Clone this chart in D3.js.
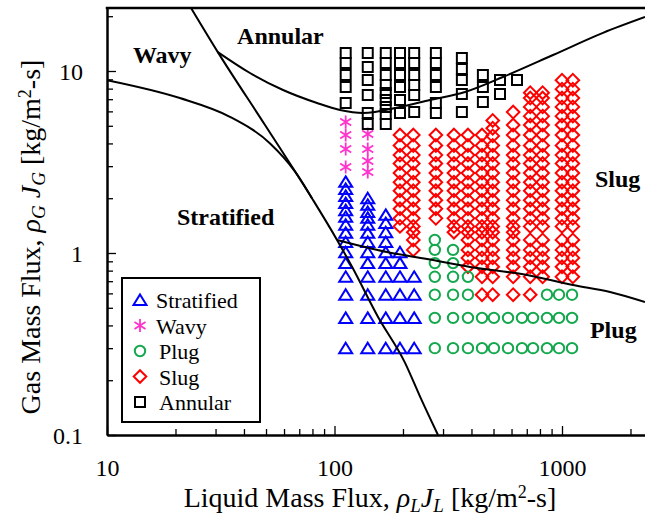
<!DOCTYPE html>
<html>
<head>
<meta charset="utf-8">
<script src="https://cdn.jsdelivr.net/npm/d3@7"></script>
<style>
  body { margin: 0; background: #fff; }
  svg { display: block; font-family: "Liberation Serif", "Times New Roman", serif; }
</style>
</head>
<body>
<svg id="chart" width="645" height="516"></svg>
<script>
"use strict";

// Measured points: liquid mass flux columns and the gas mass flux values in each column
const stratifiedL = [112, 140, 168, 194, 224];
const stratifiedG = [
    [0.30, 0.44, 0.59, 0.74, 0.88, 1.01, 1.15, 1.29, 1.43, 1.58, 1.72, 1.88, 2.06, 2.25, 2.46],
    [0.30, 0.44, 0.59, 0.74, 0.88, 1.01, 1.15, 1.29, 1.43, 1.56, 1.68, 1.84, 2.00],
    [0.30, 0.44, 0.59, 0.74, 0.88, 1.01, 1.15, 1.30, 1.46, 1.62],
    [0.30, 0.44, 0.59, 0.74, 0.88, 1.01],
    [0.30, 0.44, 0.59, 0.74]
];

const wavyL = [112, 140];
const wavyG = [
    [2.97, 3.73, 4.45, 5.25],
    [2.79, 3.20, 3.73, 4.51]
];

const plugL = [276, 332, 386, 445, 502, 579, 667, 746, 859, 970, 1107];
const plugG = [
    [0.30, 0.44, 0.59, 0.74, 0.88, 1.04, 1.18],
    [0.30, 0.44, 0.59, 0.74, 0.88, 1.04],
    [0.30, 0.44, 0.59, 0.74],
    [0.30, 0.44],
    [0.30, 0.44],
    [0.30, 0.44],
    [0.30, 0.44],
    [0.30, 0.44],
    [0.30, 0.44, 0.59],
    [0.30, 0.44, 0.59],
    [0.30, 0.44, 0.59]
];

const slugL = [194, 222, 279, 335, 386, 445, 496, 610, 725, 822, 1000, 1116];
const slugG = [
    [1.40, 1.55, 1.75, 1.95, 2.20, 2.45, 2.75, 3.10, 3.45, 3.90, 4.45],
    [1.04, 1.18, 1.30, 1.40, 1.55, 1.75, 1.95, 2.20, 2.45, 2.75, 3.10, 3.45, 3.90, 4.45],
    [1.55, 1.75, 1.95, 2.20, 2.45, 2.75, 3.10, 3.45, 3.90, 4.45],
    [1.30, 1.40, 1.55, 1.75, 1.95, 2.20, 2.45, 2.75, 3.10, 3.45, 3.90, 4.45],
    [0.84, 0.94, 1.04, 1.18, 1.30, 1.40, 1.55, 1.75, 1.95, 2.20, 2.45, 2.75, 3.10, 3.45, 3.90, 4.45],
    [0.59, 0.74, 0.84, 0.94, 1.04, 1.18, 1.30, 1.40, 1.55, 1.75, 1.95, 2.20, 2.45, 2.75, 3.10, 3.45, 3.90, 4.45],
    [0.59, 0.74, 0.84, 0.94, 1.04, 1.18, 1.30, 1.40, 1.55, 1.75, 1.95, 2.20, 2.45, 2.75, 3.10, 3.45, 3.90, 4.40, 4.85, 5.35],
    [0.59, 0.74, 0.84, 0.94, 1.04, 1.18, 1.30, 1.40, 1.55, 1.75, 1.95, 2.20, 2.45, 2.75, 3.10, 3.45, 3.90, 4.45, 5.05, 5.95],
    [0.59, 0.74, 0.84, 0.94, 1.04, 1.18, 1.40, 1.55, 1.75, 1.95, 2.20, 2.45, 2.75, 3.10, 3.45, 3.90, 4.45, 5.05, 5.65, 6.35, 7.10, 7.60],
    [0.74, 0.84, 0.94, 1.04, 1.18, 1.40, 1.55, 1.75, 1.95, 2.20, 2.45, 2.75, 3.10, 3.45, 3.90, 4.45, 5.05, 5.65, 6.35, 7.10, 7.60],
    [0.74, 0.84, 0.94, 1.04, 1.18, 1.40, 1.55, 1.75, 1.95, 2.20, 2.45, 2.75, 3.10, 3.45, 3.90, 4.45, 5.05, 5.65, 6.35, 7.10, 7.95, 8.90],
    [0.74, 0.84, 0.94, 1.04, 1.18, 1.40, 1.55, 1.75, 1.95, 2.20, 2.45, 2.75, 3.10, 3.45, 3.90, 4.45, 5.05, 5.65, 6.35, 7.10, 7.95, 8.90]
];

const annularL = [112, 140, 168, 194, 224, 279, 363, 449, 534, 634];
const annularG = [
    [6.67, 8.17, 9.51, 11.07, 12.56],
    [5.12, 5.88, 7.39, 8.92, 10.52, 12.56],
    [5.12, 5.80, 6.34, 6.93, 7.57, 8.38, 9.51, 11.07, 12.56],
    [5.88, 6.93, 8.17, 9.51, 11.07, 12.56],
    [5.95, 7.39, 8.38, 9.51, 11.07, 12.56],
    [5.88, 6.67, 8.17, 9.51, 11.07, 12.56],
    [5.95, 7.47, 8.92, 10.26, 11.79],
    [6.76, 8.17, 9.51],
    [7.47, 8.92],
    [8.92]
];

// Transition boundaries (liquid flux, gas flux)
const wavyLineL = [10, 20.9, 34.7, 52.1, 67.1, 79.6];
const wavyLineG = [8.9, 7.1, 5.6, 4.0, 2.8, 2.0];
const stratLineL = [23.4, 30.7, 49.5, 79.6, 102.6, 119.4, 155.4, 204, 238, 285];
const stratLineG = [22.2, 12.7, 5.05, 2.0, 1.18, 0.84, 0.445, 0.25, 0.162, 0.1];
const annularLineL = [30.7, 42.5, 59.4, 83.8, 105.7, 133.4, 194, 263, 375, 550, 913, 1514, 2317];
const annularLineG = [12.7, 9.75, 7.86, 6.67, 6.11, 5.88, 6.34, 6.93, 7.67, 9.27, 12.24, 16.2, 19.8];
const plugLineL = [102.6, 170, 255, 394, 702, 1118, 1626, 2317];
const plugLineG = [1.18, 1.013, 0.927, 0.838, 0.757, 0.667, 0.611, 0.538];

// Region names and where they sit
const regionNames = ["Wavy", "Annular", "Stratified", "Slug", "Plug"];
const regionL = [13.0, 37.3, 20.3, 1396, 1327];
const regionG = [11.1, 14.1, 1.43, 2.30, 0.34];

const legendNames = ["Stratified", "Wavy", "Plug", "Slug", "Annular"];

// Marker shapes and colours for each regime
const shapes = {
    Stratified: "M0,-5.5L6.5,5L-6.5,5Z",
    Wavy: "M0,-6.5V6.5M-5.5,-3.5L5.5,3.5M-5.5,3.5L5.5,-3.5",
    Plug: "M5.2,0A5.2,5.2 0 1 1 -5.2,0A5.2,5.2 0 1 1 5.2,0Z",
    Slug: "M0,-6.3L6.3,0L0,6.3L-6.3,0Z",
    Annular: "M-5,-5H5V5H-5Z"
};
const colors = {
    Stratified: "#0000ff",
    Wavy: "#ff33cc",
    Plug: "#14a84e",
    Slug: "#ff0000",
    Annular: "#000000"
};

const svg = d3.select("#chart");
svg.append("rect").attr("width", 645).attr("height", 516).attr("fill", "#fff");

const decadeX = 227.5, decadeY = 182;
const x = d3.scaleLog()
    .domain([10, 2600])
    .range([107, 107 + decadeX * Math.log10(260)]);
const y = d3.scaleLog()
    .domain([0.1, 22.2])
    .range([435, 435 - decadeY * Math.log10(222)]);

const isMajor = (d) => Math.abs(Math.log10(d) - Math.round(Math.log10(d))) < 1e-6;

svg.append("clipPath").attr("id", "plot-clip")
    .append("rect")
    .attr("x", x.range()[0])
    .attr("y", y.range()[1])
    .attr("width", x.range()[1] - x.range()[0])
    .attr("height", y.range()[0] - y.range()[1]);

const plot = svg.append("g").attr("clip-path", "url(#plot-clip)");

// markers
const drawRegime = (name, cols, vals) => {
    const pts = [];
    cols.forEach((l, i) => vals[i].forEach(g => pts.push([l, g])));
    plot.append("g")
        .selectAll("path")
        .data(pts)
        .enter()
        .append("path")
        .attr("transform", d => `translate(${x(d[0])},${y(d[1])})`)
        .attr("d", shapes[name])
        .attr("fill", "none")
        .attr("stroke", colors[name])
        .attr("stroke-width", name === "Wavy" ? 1.8 : 2);
};

drawRegime("Slug", slugL, slugG);
drawRegime("Plug", plugL, plugG);
drawRegime("Stratified", stratifiedL, stratifiedG);
drawRegime("Wavy", wavyL, wavyG);
drawRegime("Annular", annularL, annularG);

// boundary curves
const line = d3.line()
    .x(d => x(d[0]))
    .y(d => y(d[1]))
    .curve(d3.curveMonotoneX);

[
    [wavyLineL, wavyLineG],
    [stratLineL, stratLineG],
    [annularLineL, annularLineG],
    [plugLineL, plugLineG]
].forEach(([ls, gs]) => {
    plot.append("path")
        .datum(ls.map((l, i) => [l, gs[i]]))
        .attr("d", line)
        .attr("fill", "none")
        .attr("stroke", "#000")
        .attr("stroke-width", 2);
});

// region labels
svg.append("g")
    .selectAll("text")
    .data(regionNames)
    .enter()
    .append("text")
    .attr("x", (d, i) => x(regionL[i]))
    .attr("y", (d, i) => y(regionG[i]))
    .attr("font-size", 24)
    .attr("font-weight", "bold")
    .text(d => d);

// axes, ticks pointing inward
const gx = svg.append("g")
    .attr("transform", `translate(0,${y.range()[0]})`)
    .call(d3.axisBottom(x)
        .tickValues(x.ticks())
        .tickSize(-6)
        .tickSizeOuter(0)
        .tickFormat(d => isMajor(d) ? String(d) : ""));

const gy = svg.append("g")
    .attr("transform", `translate(${x.range()[0]},0)`)
    .call(d3.axisLeft(y)
        .tickValues(y.ticks())
        .tickSize(-6)
        .tickSizeOuter(0)
        .tickFormat(d => isMajor(d) ? String(d) : ""));

[gx, gy].forEach(g => {
    g.attr("font-family", null).attr("font-size", 24);
    g.select(".domain").attr("stroke-width", 2.5);
    g.selectAll(".tick line").attr("stroke-width", 1.3);
    g.selectAll(".tick text").attr("fill", "#000");
});
gx.selectAll(".tick line").filter(isMajor).attr("y2", -9);
gy.selectAll(".tick line").filter(isMajor).attr("x2", 9);
gx.selectAll(".tick text").attr("y", 41).attr("dy", 0);
gy.selectAll(".tick text").attr("x", -24).attr("dy", "0.34em");

svg.append("line")
    .attr("x1", x.range()[0] - 1.25)
    .attr("x2", x.range()[1])
    .attr("y1", y.range()[1])
    .attr("y2", y.range()[1])
    .attr("stroke", "#000")
    .attr("stroke-width", 2.5);

// axis titles with subscripts
const xTitle = svg.append("text")
    .attr("x", 370)
    .attr("y", 507)
    .attr("text-anchor", "middle")
    .attr("font-size", 28);
xTitle.append("tspan").text("Liquid Mass Flux, ");
xTitle.append("tspan").attr("font-style", "italic").text("\u03C1");
xTitle.append("tspan").attr("font-style", "italic").attr("font-size", 19).attr("dy", 5).text("L");
xTitle.append("tspan").attr("font-style", "italic").attr("dy", -5).text("J");
xTitle.append("tspan").attr("font-style", "italic").attr("font-size", 19).attr("dy", 5).text("L");
xTitle.append("tspan").attr("dy", -5).text(" [kg/m");
xTitle.append("tspan").attr("font-size", 18).attr("dy", -9).text("2");
xTitle.append("tspan").attr("dy", 9).text("-s]");

const yTitle = svg.append("text")
    .attr("transform", "translate(40,237) rotate(-90)")
    .attr("text-anchor", "middle")
    .attr("font-size", 28);
yTitle.append("tspan").text("Gas Mass Flux, ");
yTitle.append("tspan").attr("font-style", "italic").text("\u03C1");
yTitle.append("tspan").attr("font-style", "italic").attr("font-size", 19).attr("dy", 5).text("G");
yTitle.append("tspan").attr("dy", -5).text(" ");
yTitle.append("tspan").attr("font-style", "italic").text("J");
yTitle.append("tspan").attr("font-style", "italic").attr("font-size", 19).attr("dy", 5).text("G");
yTitle.append("tspan").attr("dy", -5).text(" [kg/m");
yTitle.append("tspan").attr("font-size", 18).attr("dy", -9).text("2");
yTitle.append("tspan").attr("dy", 9).text("-s]");

// legend
const legend = svg.append("g");
legend.append("rect")
    .attr("x", 122)
    .attr("y", 278)
    .attr("width", 138)
    .attr("height", 144)
    .attr("fill", "#fff")
    .attr("stroke", "#000")
    .attr("stroke-width", 2);

const legendItems = legend.selectAll(".legend-item")
    .data(legendNames)
    .enter()
    .append("g")
    .attr("class", "legend-item")
    .attr("transform", (d, i) => `translate(140, ${300 + i * 25.5})`);

legendItems.append("path")
    .attr("d", d => shapes[d])
    .attr("fill", "none")
    .attr("stroke", d => colors[d])
    .attr("stroke-width", d => d === "Wavy" ? 1.8 : 2);

legendItems.append("text")
    .attr("x", (d, i) => i < 2 ? 16 : 19)
    .attr("y", 8)
    .attr("font-size", 22)
    .text(d => d);
</script>
</body>
</html>
